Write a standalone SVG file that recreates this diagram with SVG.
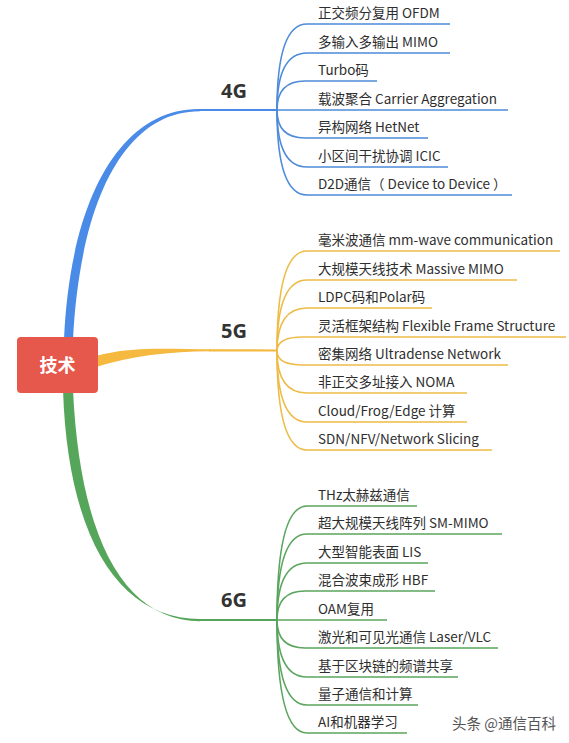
<svg xmlns="http://www.w3.org/2000/svg" width="569" height="743" viewBox="0 0 569 743">
<style>
.t{font-family:"Noto Sans CJK SC","Noto Sans",sans-serif;font-size:13.5px;fill:#2e2e2e}
.h{font-family:"Noto Sans","Noto Sans CJK SC",sans-serif;font-size:20px;font-weight:bold;fill:#333}
.b{fill:none;stroke:#4E8BD8;stroke-width:1.6}
.y{fill:none;stroke:#EDBC47;stroke-width:1.6}
.g{fill:none;stroke:#5BA55E;stroke-width:1.6}
</style>
<rect width="569" height="743" fill="#fff"/>
<g id="connectors">
<path d="M64 340 C70 200 120 108 200 109 L200 111.2 C125 111 80 200 73 340 Z" fill="#4A8BE8"/>
<path d="M200 110 L277 110" stroke="#4A8BE8" stroke-width="2.2" fill="none"/>
<path d="M96 356 C130 346 170 349 210 349.3 L210 351.3 C170 351.5 130 356 96 367 Z" fill="#F4B93E"/>
<path d="M209 350.3 L277 350.5" stroke="#F4B93E" stroke-width="2.2" fill="none"/>
<path d="M63 390 C68 540 120 619 200 619 L200 621.2 C125 621 80 540 73 390 Z" fill="#55A65A"/>
<path d="M200 620 L277 620" stroke="#55A65A" stroke-width="2.2" fill="none"/>
<path class="b" d="M277 110 Q277 24 307 24 L450 24"/>
<path class="b" d="M277 110 Q277 53 307 53 L450 53"/>
<path class="b" d="M277 110 Q277 81 305 81 L377 81"/>
<path class="b" d="M277 110 L508 110"/>
<path class="b" d="M277 110 Q277 138 305 138 L428 138"/>
<path class="b" d="M277 110 Q277 167 307 167 L448 167"/>
<path class="b" d="M277 110 Q277 195 307 195 L512 195"/>
<path class="y" d="M277 351 Q277 251 307 251 L560 251"/>
<path class="y" d="M277 351 Q277 280 307 280 L517 280"/>
<path class="y" d="M277 351 Q277 308 307 308 L432 308"/>
<path class="y" d="M277 351 Q277 337 303 337 L566 337"/>
<path class="y" d="M277 351 Q277 365 303 365 L508 365"/>
<path class="y" d="M277 351 Q277 393 307 393 L467 393"/>
<path class="y" d="M277 351 Q277 422 307 422 L467 422"/>
<path class="y" d="M277 351 Q277 450 307 450 L492 450"/>
<path class="g" d="M277 620 Q277 506 307 506 L417 506"/>
<path class="g" d="M277 620 Q277 534 307 534 L502 534"/>
<path class="g" d="M277 620 Q277 563 307 563 L428 563"/>
<path class="g" d="M277 620 Q277 591 305 591 L435 591"/>
<path class="g" d="M277 620 L387 620"/>
<path class="g" d="M277 620 Q277 648 305 648 L498 648"/>
<path class="g" d="M277 620 Q277 677 307 677 L458 677"/>
<path class="g" d="M277 620 Q277 705 307 705 L418 705"/>
<path class="g" d="M277 620 Q277 733 307 733 L407 733"/>
</g>
<g id="root">
<rect x="17" y="337" width="81" height="56" rx="4" fill="#E5584B"/>
<text x="57.5" y="372" text-anchor="middle" font-family="Noto Sans CJK SC,sans-serif" font-size="18" font-weight="bold" fill="#fff">技术</text>
</g>
<g id="n4G"><text class="h" x="221" y="98">4G</text></g>
<g id="n5G"><text class="h" x="221" y="338">5G</text></g>
<g id="n6G"><text class="h" x="221" y="607">6G</text></g>
<g id="leaves4G">
<text class="t" x="318" y="18">正交频分复用 OFDM</text>
<text class="t" x="318" y="47">多输入多输出 MIMO</text>
<text class="t" x="318" y="75">Turbo码</text>
<text class="t" x="318" y="104">载波聚合 Carrier Aggregation</text>
<text class="t" x="318" y="132">异构网络 HetNet</text>
<text class="t" x="318" y="161">小区间干扰协调 ICIC</text>
<text class="t" x="318" y="189">D2D通信（ Device to Device ）</text>
</g>
<g id="leaves5G">
<text class="t" x="318" y="245">毫米波通信 mm-wave communication</text>
<text class="t" x="318" y="274">大规模天线技术 Massive MIMO</text>
<text class="t" x="318" y="302">LDPC码和Polar码</text>
<text class="t" x="318" y="331">灵活框架结构 Flexible Frame Structure</text>
<text class="t" x="318" y="359">密集网络 Ultradense Network</text>
<text class="t" x="318" y="387">非正交多址接入 NOMA</text>
<text class="t" x="318" y="416">Cloud/Frog/Edge 计算</text>
<text class="t" x="318" y="444">SDN/NFV/Network Slicing</text>
</g>
<g id="leaves6G">
<text class="t" x="318" y="500">THz太赫兹通信</text>
<text class="t" x="318" y="528">超大规模天线阵列 SM-MIMO</text>
<text class="t" x="318" y="557">大型智能表面 LIS</text>
<text class="t" x="318" y="585">混合波束成形 HBF</text>
<text class="t" x="318" y="614">OAM复用</text>
<text class="t" x="318" y="642">激光和可见光通信 Laser/VLC</text>
<text class="t" x="318" y="671">基于区块链的频谱共享</text>
<text class="t" x="318" y="699">量子通信和计算</text>
<text class="t" x="318" y="727">AI和机器学习</text>
</g>
<g id="watermark">
<text x="452" y="729" font-family="Noto Sans CJK SC,sans-serif" font-size="14.5" fill="#555">头条 @通信百科</text>
</g>
</svg>
